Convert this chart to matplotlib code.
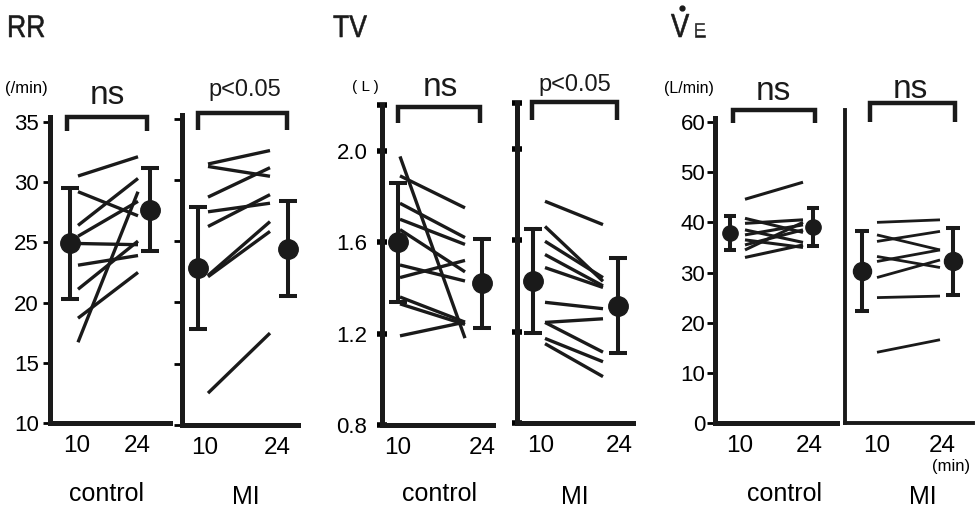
import numpy as np
import matplotlib
matplotlib.use('Agg')
import matplotlib.pyplot as plt
import matplotlib.transforms as mtransforms
from matplotlib.lines import Line2D
from matplotlib.textpath import TextPath
from matplotlib.patches import PathPatch
from matplotlib.font_manager import FontProperties

# ---- data ----
times = ['10', '24']

rr_ctrl_10 = [30.5, 29.2, 26.4, 25.5, 24.9, 23.1, 21.1, 18.7, 16.7]
rr_ctrl_24 = [32.1, 27.2, 30.3, 28.4, 24.8, 23.9, 25.1, 22.5, 29.2]
rr_ctrl_mean = [24.9, 27.7]
rr_ctrl_err = [4.6, 3.45]

rr_mi_10 = [31.3, 31.1, 28.6, 27.4, 26.2, 22.2, 22.1, 12.6]
rr_mi_24 = [32.4, 30.3, 31.0, 28.1, 28.8, 26.6, 25.8, 17.5]
rr_mi_mean = [22.8, 24.4]
rr_mi_err = [5.0, 3.85]

tv_ctrl_10 = [1.975, 1.89, 1.77, 1.70, 1.655, 1.50, 1.445, 1.36, 1.33, 1.19]
tv_ctrl_24 = [1.18, 1.75, 1.62, 1.59, 1.47, 1.43, 1.52, 1.25, 1.24, 1.25]
tv_ctrl_mean = [1.60, 1.42]
tv_ctrl_err = [0.26, 0.195]

tv_mi_10 = [1.77, 1.66, 1.595, 1.537, 1.48, 1.328, 1.24, 1.24, 1.17, 1.147]
tv_mi_24 = [1.668, 1.42, 1.436, 1.40, 1.393, 1.30, 1.256, 1.11, 1.068, 1.003]
tv_mi_mean = [1.42, 1.314]
tv_mi_err = [0.228, 0.208]

ve_ctrl_10 = [44.6, 40.8, 39.8, 38.5, 37.5, 36.5, 35.5, 34.5, 33.0]
ve_ctrl_24 = [48.0, 38.0, 40.5, 36.0, 39.5, 35.0, 38.5, 40.0, 35.5]
ve_ctrl_mean = [37.8, 39.1]
ve_ctrl_err = [3.4, 3.8]

ve_mi_10 = [40.0, 37.5, 36.2, 33.2, 32.2, 29.0, 25.0, 14.1]
ve_mi_24 = [40.5, 34.5, 38.2, 31.0, 34.5, 32.5, 25.3, 16.6]
ve_mi_mean = [30.3, 32.2]
ve_mi_err = [7.9, 6.7]

W, H = 979, 508
INK = '#1a1a1a'
plt.rcParams['font.family'] = ['Liberation Sans', 'DejaVu Sans']

fig = plt.figure(figsize=(W / 100, H / 100), dpi=100)
px = mtransforms.Affine2D().scale(1 / W, -1 / H).translate(0, 1) + fig.transFigure


def panel(box, ylim, line_x, mean_x, tick_x, before, after, means, errs,
          lw=2.4, ms=14, cap=6.5, spine=3.6):
    l, r, t, b = box
    ax = fig.add_axes([l / W, 1 - b / H, (r - l) / W, (b - t) / H])
    x0, x1 = line_x
    span = x1 - x0
    ax.set_xlim(-(x0 - l) / span, 1 + (r - x1) / span)
    ax.set_ylim(*ylim)
    for a, c in zip(before, after):
        ax.plot([0, 1], [a, c], color=INK, lw=lw, solid_capstyle='butt')
    mx = [(m - x0) / span for m in mean_x]
    ax.errorbar(mx, means, yerr=errs, fmt='o', color=INK, ms=ms,
                elinewidth=2.9, capsize=cap, capthick=2.9, clip_on=False, zorder=5)
    ax.set_xticks([(tx - x0) / span for tx in tick_x])
    ax.set_xticklabels(times, fontsize=17.5)
    ax.tick_params(axis='x', length=0, pad=9)
    for s in ['top', 'right']:
        ax.spines[s].set_visible(False)
    for s in ['left', 'bottom']:
        ax.spines[s].set_linewidth(spine)
        ax.spines[s].set_color(INK)
    ax.patch.set_alpha(0)
    return ax


def bracket(bl, br, btop, bbot, text, size, tx, ty):
    fig.add_artist(Line2D([bl, bl, br, br], [bbot, btop, btop, bbot], transform=px,
                          color=INK, lw=3.2, solid_joinstyle='miter',
                          solid_capstyle='butt'))
    fig.text(tx, ty, text, transform=px, ha='center', va='center', fontsize=size,
             color=INK)


def squeezed(x, y, s, size_pt, sx=0.85):
    # condensed heading text, baseline at (x, y) in image pixels
    tp = TextPath((0, 0), s, size=size_pt * 100 / 72,
                  prop=FontProperties(family='Liberation Sans'))
    tr = mtransforms.Affine2D().scale(sx, -1).translate(x, y) + px
    fig.add_artist(PathPatch(tp, transform=tr, facecolor=INK, edgecolor=INK, lw=0.4))


# RR
ax1 = panel((50, 170, 117, 423), (10, 35.4), (78, 138), (70, 150), (77, 137),
            rr_ctrl_10, rr_ctrl_24, rr_ctrl_mean, rr_ctrl_err)
ax1.set_yticks([10, 15, 20, 25, 30, 35])
ax1.tick_params(axis='y', direction='out', length=5, width=2, labelsize=16, pad=3)

ax2 = panel((182, 298, 115, 425), (10, 35.3), (208, 270), (198, 288), (205, 277),
            rr_mi_10, rr_mi_24, rr_mi_mean, rr_mi_err)
ax2.set_yticks([10, 15, 20, 25, 30, 35])
ax2.tick_params(axis='y', direction='out', length=6, width=2, labelleft=False)

# TV
ax3 = panel((382, 493, 105, 425), (0.8, 2.2), (400, 465), (398, 482), (398, 482),
            tv_ctrl_10, tv_ctrl_24, tv_ctrl_mean, tv_ctrl_err)
ax3.set_yticks([0.8, 1.2, 1.6, 2.0, 2.2])
ax3.set_yticklabels(['0.8', '1.2', '1.6', '2.0', ''])
ax3.tick_params(axis='y', direction='inout', length=7, width=4, labelsize=16, pad=7)

ax4 = panel((517, 633, 103, 423), (0.8, 2.2), (545, 603), (533, 618), (541, 619),
            tv_mi_10, tv_mi_24, tv_mi_mean, tv_mi_err)
ax4.set_yticks([0.8, 1.2, 1.6, 2.0, 2.2])
ax4.tick_params(axis='y', direction='inout', length=7, width=4, labelleft=False)

# VE
ax5 = panel((715, 837, 118, 423), (0, 60.8), (745, 803), (730, 813), (740, 809),
            ve_ctrl_10, ve_ctrl_24, ve_ctrl_mean, ve_ctrl_err, lw=2.2, ms=11, cap=4.5)
ax5.set_yticks([0, 10, 20, 30, 40, 50, 60])
ax5.tick_params(axis='y', direction='out', length=6, width=2, labelsize=16, pad=1)

ax6 = panel((845, 973, 110, 423), (0, 62.4), (877, 940), (862, 953), (877, 942),
            ve_mi_10, ve_mi_24, ve_mi_mean, ve_mi_err, lw=2.0, ms=13, cap=5, spine=2.8)
ax6.set_yticks([])

# brackets and significance
bracket(67, 147, 117, 131, 'ns', 24, 107, 96)
bracket(198, 287, 113, 130, 'p<0.05', 17, 245, 90)
bracket(398, 480, 107, 123, 'ns', 24, 440, 88)
bracket(532, 617, 102, 120, 'p<0.05', 17, 575, 85)
bracket(733, 815, 110, 123, 'ns', 24, 773, 91)
bracket(870, 955, 103, 122, 'ns', 24, 910, 89)

# titles
squeezed(7, 37, 'RR', 22.5)
squeezed(333, 37, 'TV', 22.5)
squeezed(671, 37, 'V', 24, sx=0.82)
squeezed(693, 37, 'E', 15, sx=0.9)
fig.add_artist(Line2D([682], [8], marker='o', ms=3.5, color=INK, transform=px))

# units
fig.text(5, 88, '(/min)', transform=px, fontsize=12, va='center')
fig.text(352, 87, '( L )', transform=px, fontsize=11, va='center')
fig.text(664, 88, '(L/min)', transform=px, fontsize=11.5, va='center')
fig.text(951, 466, '(min)', transform=px, fontsize=12, ha='center', va='center')

# group labels
for x, y, s in [(107, 494, 'control'), (246, 497, 'MI'), (440, 494, 'control'),
                (575, 497, 'MI'), (785, 494, 'control'), (923, 497, 'MI')]:
    fig.text(x, y, s, transform=px, fontsize=18, ha='center', va='center')

fig.savefig('out.png', dpi=100)
